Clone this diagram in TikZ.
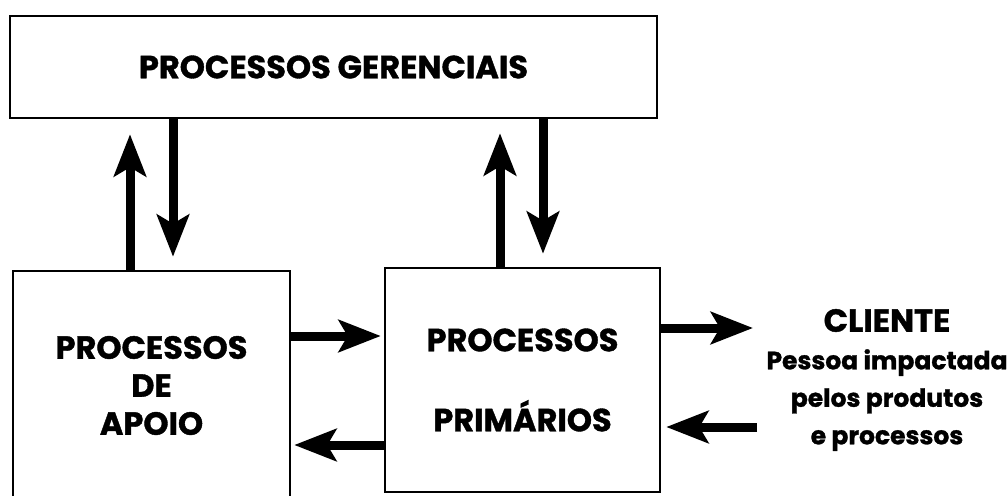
\documentclass[tikz,border=0pt]{standalone}
\usepackage{fontspec}
\setmainfont{Poppins}[BoldFeatures={FakeBold=1.2}]
\usetikzlibrary{arrows.meta}

\begin{document}
\begin{tikzpicture}[x=1pt,y=-1pt,
    caixa/.style={draw,line width=2.5pt,align=center,inner sep=0pt,
        font=\fontsize{32}{38}\selectfont\bfseries},
    seta/.style={-{Stealth[length=42pt,width=32pt,inset=9pt]},line width=9pt}]
    \useasboundingbox (0,0) rectangle (1008,495);
    % Nodes
    \node (ger) at (333.5,67) [caixa,minimum width=647,minimum height=102] {PROCESSOS GERENCIAIS};
    \node (apoio) at (151.5,385.5) [caixa,minimum width=277,minimum height=229] {PROCESSOS\\DE\\APOIO};
    \node (prim) at (522.5,380) [caixa,minimum width=275,minimum height=224] {PROCESSOS\\[42pt]PRIMÁRIOS};
    \node (cli) at (887,380) [align=center,inner sep=0pt,font=\fontsize{25}{37.5}\selectfont\bfseries]
        {{\fontsize{32}{38}\selectfont CLIENTE}\\Pessoa impactada\\pelos produtos\\e processos};
    \coordinate (c1) at (753,328);
    \coordinate (c2) at (757,427);
    % Edges
    \path[seta] (apoio.north -| 130,0) edge[shorten >=15pt] (ger.south -| 130,0);
    \path[seta] (ger.south -| 173,0) edge[shorten >=13pt] (apoio.north -| 173,0);
    \path[seta] (prim.north -| 500,0) edge[shorten >=14pt] (ger.south -| 500,0);
    \path[seta] (ger.south -| 543,0) edge[shorten >=13pt] (prim.north -| 543,0);
    \path[seta] (apoio.east |- 0,336) edge[shorten >=3pt] (prim.west |- 0,336);
    \path[seta] (prim.west |- 0,445) edge[shorten >=3pt] (apoio.east |- 0,445);
    \path[seta] (prim.east |- c1) edge (c1);
    \path[seta] (c2) edge[shorten >=5pt] (prim.east |- c2);
\end{tikzpicture}
\end{document}
